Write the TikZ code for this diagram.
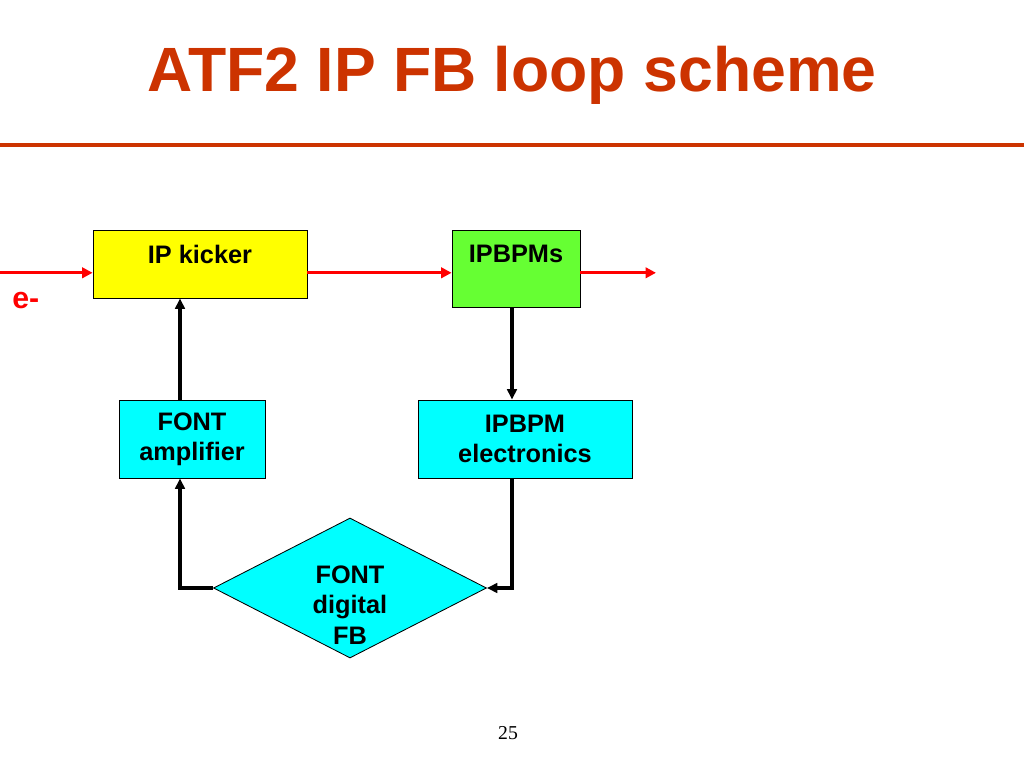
\documentclass[tikz,border=0pt]{standalone}
\usepackage{fontspec}
\setmainfont{Liberation Sans}
\newfontfamily\pagefont{Liberation Serif}
\usepackage{xcolor}
\usetikzlibrary{arrows.meta}
\usetikzlibrary{positioning,shapes.geometric}
\definecolor{titlered}{HTML}{CC3300}
\definecolor{kickyellow}{HTML}{FFFF00}
\definecolor{bpmgreen}{HTML}{66FF33}
\definecolor{fontcyan}{HTML}{00FFFF}

\begin{document}
\begin{tikzpicture}[
        font=\bfseries\fontsize{18}{21.6}\selectfont,
        block/.style={draw, line width=0.6pt, align=center, inner sep=0pt},
        toptext/.style={label={[anchor=north, yshift=-0.26cm]north:#1}},
        fb/.style={line width=2.4pt, -{Triangle[length=0.26cm, width=0.24cm]}},
        beam/.style={red, line width=2.4pt, -{Triangle[length=0.26cm, width=0.26cm]}}
    ]
        \useasboundingbox (0,0) rectangle (25.6,-19.2);
        \node[titlered, font=\bfseries\fontsize{44.5}{50}\selectfont, anchor=base] (title) at (12.8,-2.3) {ATF2 IP FB loop scheme};
        \draw[titlered, line width=2.8pt] (0,-3.625) -- (25.6,-3.625);

        \node[block, fill=kickyellow, minimum width=5.35cm, minimum height=1.7cm, toptext=IP kicker] (kick) at (5,-6.6) {};
        \node[block, fill=bpmgreen, minimum width=3.2cm, minimum height=1.925cm, toptext=IPBPMs] (bpm) at (12.9,-6.7125) {};
        \node[block, fill=fontcyan, minimum width=3.65cm, minimum height=1.95cm] (amp) at (4.8,-10.975) {FONT\\amplifier};
        \node[block, fill=fontcyan, minimum width=5.35cm, minimum height=1.95cm] (ele) at (13.125,-10.975) {IPBPM\\electronics};
        \node[diamond, draw, line width=0.6pt, fill=fontcyan, minimum width=6.825cm, minimum height=3.5cm, inner sep=0pt,
            label={[align=center, yshift=-0.42cm]center:FONT\\digital\\FB}] (dig) at (8.75,-14.7) {};

        \coordinate (ein) at (0,-6.82);
        \coordinate (eout) at (16.4,-6.82);
        \draw[beam] (ein) -- (ein -| kick.west);
        \draw[beam] (kick.east |- ein) -- (bpm.west |- ein);
        \draw[beam] (bpm.east |- ein) -- (eout);
        \node[text=red, font=\bfseries\fontsize{21.5}{25}\selectfont, anchor=base west, inner sep=0pt] (elec) at (0.3,-7.72) {e-};

        \draw[fb] ([xshift=-0.3cm]amp.north) -- ([xshift=-0.3cm]amp.north |- kick.south);
        \draw[fb] ([xshift=-0.1cm]bpm.south) -- ([xshift=-0.1cm]bpm.south |- ele.north);
        \draw[fb] ([xshift=-0.325cm]ele.south) |- (dig.east);
        \draw[fb] (dig.west) -| ([xshift=-0.3cm]amp.south);

        \node[font=\pagefont\mdseries\fontsize{14}{17}\selectfont] (page) at (12.7,-18.33) {25};
    \end{tikzpicture}
\end{document}
